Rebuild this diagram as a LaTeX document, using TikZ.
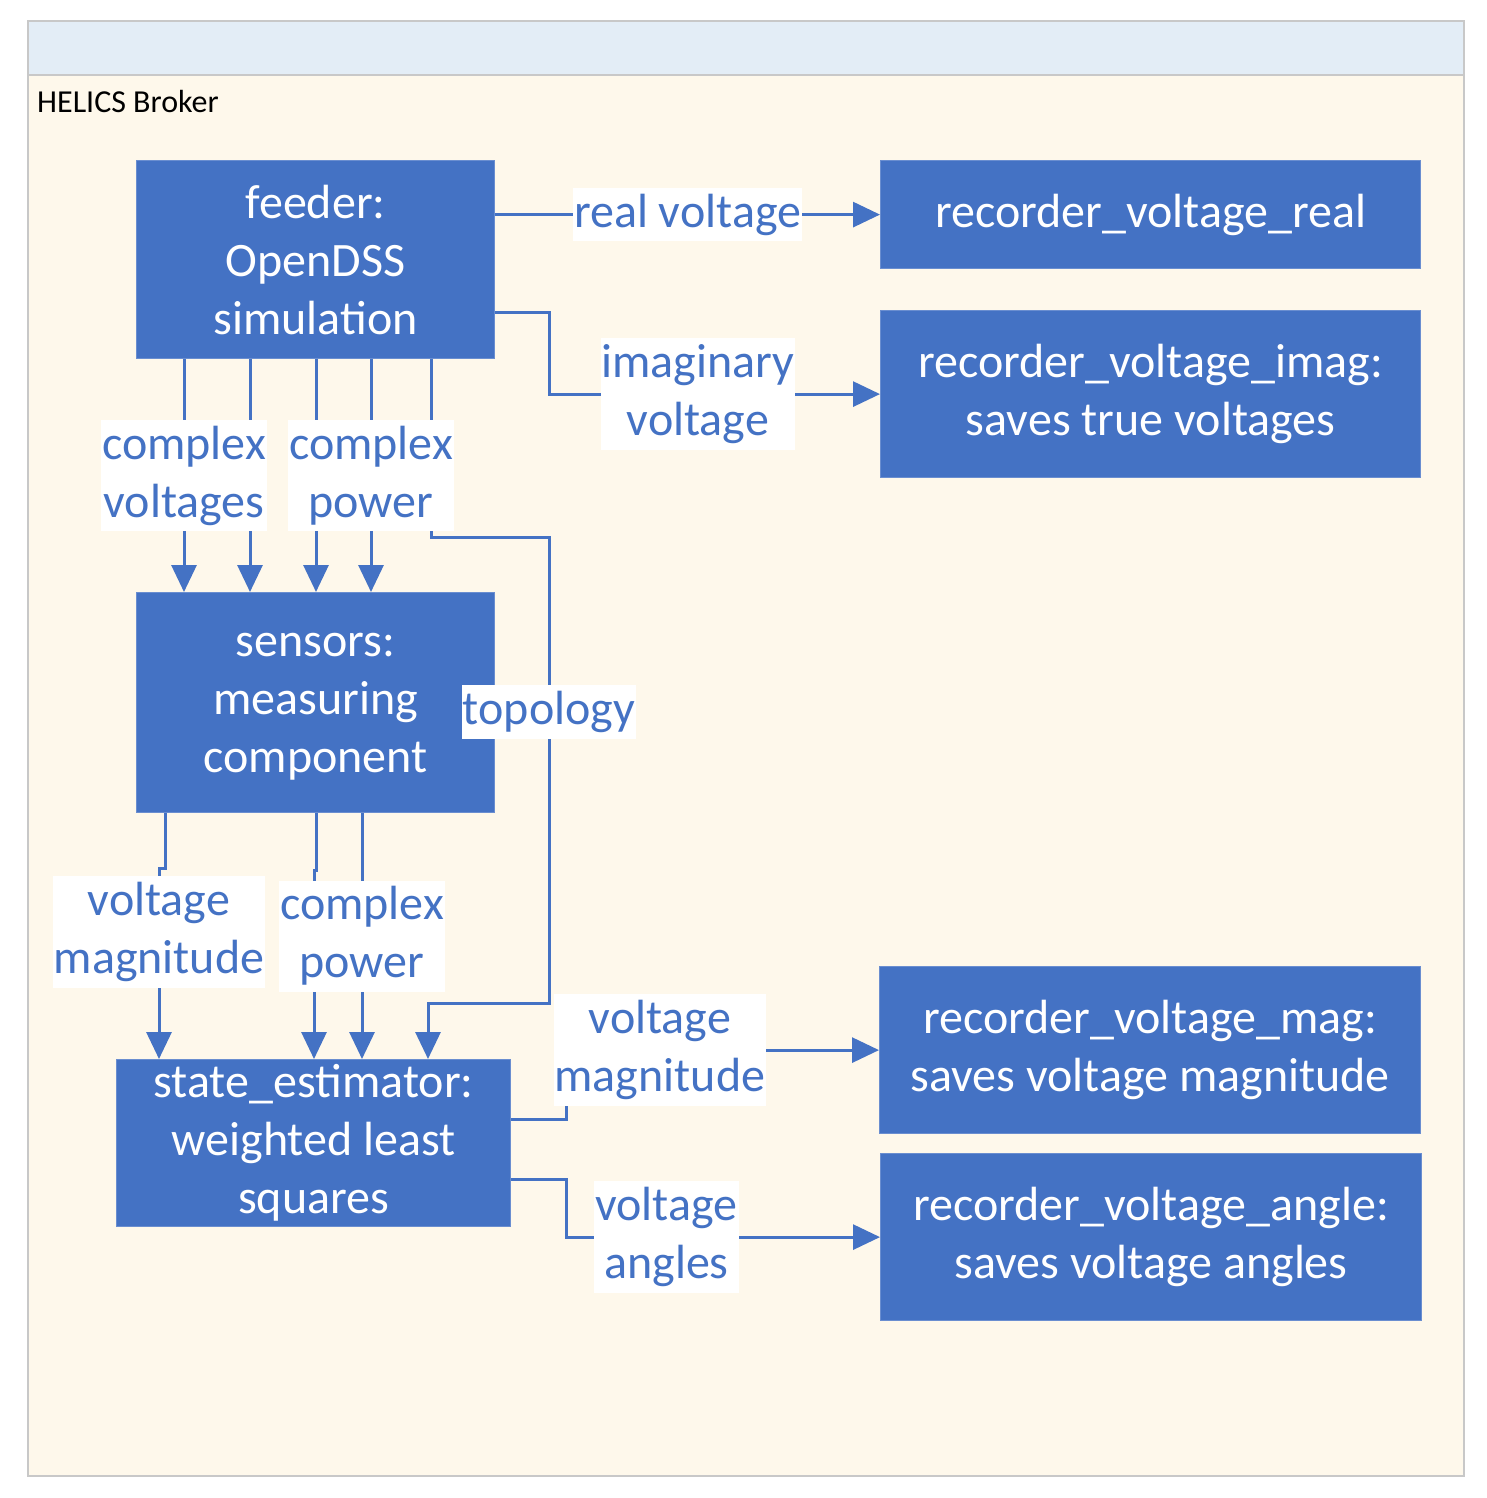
\documentclass[tikz,border=0pt]{standalone}
\usepackage{fontspec}
\setmainfont{Carlito}
\usetikzlibrary{arrows.meta}

\definecolor{boxblue}{HTML}{4472C4}
\definecolor{boxedge}{HTML}{6A8ED0}
\definecolor{brokerbg}{HTML}{FEF8EB}
\definecolor{brokerhead}{HTML}{E3EDF6}
\definecolor{brokeredge}{HTML}{C8C8C8}

\begin{document}
\begin{tikzpicture}[x=1pt, y=-1pt,
  block/.style={draw=boxedge, line width=1.2pt, fill=boxblue, text=white,
    align=center, anchor=north west, inner sep=0pt,
    font=\fontsize{48}{58}\selectfont},
  lbl/.style={fill=white, text=boxblue, align=center,
    inner xsep=1pt, inner ysep=6pt, font=\fontsize{48}{58}\selectfont},
  conn/.style={draw=boxblue, line width=3pt},
  arr/.style={conn, -{Triangle[length=27pt, width=25pt]}}]
  \useasboundingbox[fill=white] (0,0) rectangle (1486,1498);

  % broker frame
  \draw[brokeredge, line width=1.2pt, fill=brokerbg] (28,21) rectangle (1464,1476);
  \draw[brokeredge, line width=1.2pt, fill=brokerhead] (28,21) rectangle (1464,75);
  \node[anchor=base west, inner sep=0pt, font=\fontsize{32}{38}\selectfont]
    (broker) at (37,113) {HELICS Broker};

  % federates
  \node[block, minimum width=358pt, minimum height=198pt] (feeder) at (136,160)
    {feeder:\\OpenDSS\\simulation};
  \node[block, minimum width=540pt, minimum height=108pt] (rvr) at (880,160)
    {recorder\_voltage\_real};
  \node[block, minimum width=540pt, minimum height=167pt] (rvi) at (880,310)
    {recorder\_voltage\_imag:\\saves true voltages};
  \node[block, minimum width=358pt, minimum height=220pt, text depth=-6pt] (sensors) at (136,592)
    {sensors:\\measuring\\component};
  \node[block, minimum width=394pt, minimum height=167pt] (est) at (116,1059)
    {state\_estimator:\\weighted least\\squares};
  \node[block, minimum width=541pt, minimum height=167pt] (rvm) at (879,966)
    {recorder\_voltage\_mag:\\saves voltage magnitude};
  \node[block, minimum width=541pt, minimum height=167pt] (rva) at (880,1153)
    {recorder\_voltage\_angle:\\saves voltage angles};

  % feeder outputs
  \draw[arr] (feeder.east |- rvr.west) -- node[lbl]{real voltage} (rvr.west);
  \draw[arr] (feeder.east |- 0,312) -| (549,0 |- rvi.west)
    -- node[lbl, pos=0.45]{imaginary\\voltage} (rvi.west);
  \draw[arr] (feeder.south -| 250,0) -- (sensors.north -| 250,0);
  \draw[arr] (feeder.south -| 184,0) -- node[lbl]{complex\\voltages} (sensors.north -| 184,0);
  \draw[arr] (feeder.south -| 431,0) |- (549,537)
    -- node[lbl, pos=0.375]{topology} (549,1003) -| (est.north -| 428,0);
  \draw[arr] (feeder.south -| 316,0) -- (sensors.north -| 316,0);
  \draw[arr] (feeder.south -| 371,0) -- node[lbl]{complex\\power} (sensors.north -| 371,0);

  % sensor outputs
  \draw[arr] (sensors.south -| 165,0) -- (165,868) -- (159,868)
    -- node[lbl, pos=0.335]{voltage\\magnitude} (est.north -| 159,0);
  \draw[arr] (sensors.south -| 316,0) -- (316,870) -- (314,870) -- (est.north -| 314,0);
  \draw[arr] (sensors.south -| 362,0) -- node[lbl]{complex\\power} (est.north -| 362,0);

  % estimator outputs
  \draw[arr] (est.east |- 0,1119) -| (566,0 |- rvm.west)
    -- node[lbl, pos=0.3]{voltage\\magnitude} (rvm.west);
  \draw[arr] (est.east |- 0,1179) -| (566,0 |- rva.west)
    -- node[lbl, pos=0.32]{voltage\\angles} (rva.west);
\end{tikzpicture}
\end{document}
